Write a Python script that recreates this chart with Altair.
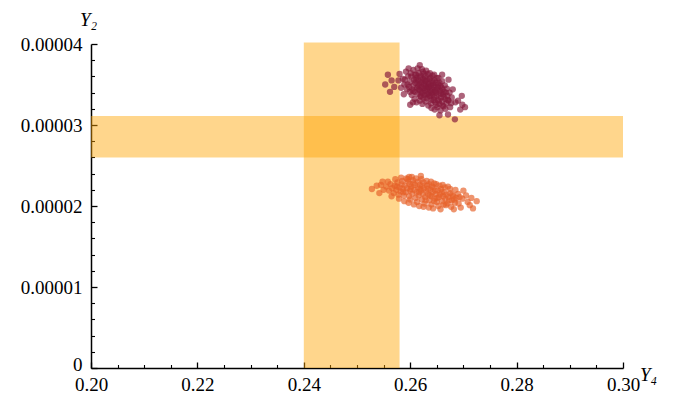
import altair as alt
import pandas as pd

# ---- axis tick values ----
x_major = [0.20, 0.22, 0.24, 0.26, 0.28, 0.30]
x_minor = [0.205, 0.21, 0.215, 0.225, 0.23, 0.235, 0.245, 0.25, 0.255,
           0.265, 0.27, 0.275, 0.285, 0.29, 0.295]
y_major = [0, 0.00001, 0.00002, 0.00003, 0.00004]
y_minor = [2e-6, 4e-6, 6e-6, 8e-6, 1.2e-5, 1.4e-5, 1.6e-5, 1.8e-5,
           2.2e-5, 2.4e-5, 2.6e-5, 2.8e-5, 3.2e-5, 3.4e-5, 3.6e-5, 3.8e-5]

# ---- bands ----
band_x1 = [0.24, 0.20]
band_x2 = [0.258, 0.30]
band_y1 = [0.0, 2.60e-5]
band_y2 = [4.02e-5, 3.11e-5]

# ---- dark red cloud ----
red_x = [0.2590, 0.2595, 0.2598, 0.2600, 0.2602, 0.2604, 0.2606, 0.2607, 0.2609, 0.2610,
         0.2611, 0.2613, 0.2614, 0.2615, 0.2617, 0.2618, 0.2619, 0.2620, 0.2621, 0.2622,
         0.2623, 0.2624, 0.2625, 0.2626, 0.2627, 0.2628, 0.2629, 0.2630, 0.2631, 0.2632,
         0.2633, 0.2634, 0.2635, 0.2636, 0.2637, 0.2638, 0.2639, 0.2640, 0.2641, 0.2642,
         0.2643, 0.2644, 0.2645, 0.2646, 0.2647, 0.2648, 0.2649, 0.2650, 0.2652, 0.2653,
         0.2654, 0.2655, 0.2656, 0.2658, 0.2659, 0.2660, 0.2662, 0.2663, 0.2664, 0.2666,
         0.2668, 0.2670, 0.2672, 0.2675, 0.2678,
         0.2612, 0.2616, 0.2620, 0.2624, 0.2628, 0.2633, 0.2638, 0.2642, 0.2646, 0.2650,
         0.2655, 0.2660, 0.2665, 0.2669, 0.2603, 0.2608, 0.2612, 0.2618, 0.2623, 0.2629,
         0.2634, 0.2640, 0.2646, 0.2651, 0.2657,
         0.2592, 0.2597, 0.2618, 0.2558, 0.2553, 0.2562, 0.2697, 0.2703, 0.2671, 0.2694,
         0.2684, 0.2578, 0.2583, 0.2580, 0.2588, 0.2605, 0.2600, 0.2660, 0.2672, 0.2680,
         0.2685, 0.2655,
         0.2596, 0.2601, 0.2606, 0.2611, 0.2616, 0.2621, 0.2626, 0.2631, 0.2636, 0.2641,
         0.2644, 0.2649, 0.2652, 0.2657, 0.2661, 0.2663, 0.2667, 0.2671, 0.2674, 0.2677,
         0.2606, 0.2599, 0.2594, 0.2589, 0.2586, 0.2609, 0.2614, 0.2622, 0.2630, 0.2637,
         0.2645, 0.2653, 0.2619, 0.2625, 0.2632, 0.2639, 0.2644, 0.2649, 0.2654, 0.2661,
         0.2666, 0.2627, 0.2634, 0.2640, 0.2615, 0.2620, 0.2628, 0.2636, 0.2647, 0.2658,
         0.2690, 0.2698, 0.2565, 0.2570]
red_y = [3.56e-5, 3.50e-5, 3.47e-5, 3.53e-5, 3.60e-5, 3.44e-5, 3.49e-5, 3.56e-5, 3.41e-5, 3.52e-5,
         3.62e-5, 3.46e-5, 3.38e-5, 3.55e-5, 3.50e-5, 3.43e-5, 3.59e-5, 3.35e-5, 3.47e-5, 3.53e-5,
         3.40e-5, 3.57e-5, 3.45e-5, 3.50e-5, 3.37e-5, 3.42e-5, 3.54e-5, 3.48e-5, 3.33e-5, 3.44e-5,
         3.51e-5, 3.39e-5, 3.46e-5, 3.57e-5, 3.35e-5, 3.42e-5, 3.49e-5, 3.31e-5, 3.45e-5, 3.38e-5,
         3.52e-5, 3.41e-5, 3.34e-5, 3.47e-5, 3.28e-5, 3.40e-5, 3.36e-5, 3.44e-5, 3.31e-5, 3.50e-5,
         3.38e-5, 3.26e-5, 3.42e-5, 3.34e-5, 3.46e-5, 3.29e-5, 3.38e-5, 3.23e-5, 3.41e-5, 3.32e-5,
         3.27e-5, 3.36e-5, 3.30e-5, 3.22e-5, 3.34e-5,
         3.58e-5, 3.64e-5, 3.61e-5, 3.66e-5, 3.60e-5, 3.63e-5, 3.58e-5, 3.61e-5, 3.55e-5, 3.58e-5,
         3.52e-5, 3.54e-5, 3.49e-5, 3.45e-5, 3.37e-5, 3.32e-5, 3.28e-5, 3.30e-5, 3.26e-5, 3.29e-5,
         3.24e-5, 3.21e-5, 3.19e-5, 3.22e-5, 3.18e-5,
         3.66e-5, 3.70e-5, 3.74e-5, 3.62e-5, 3.50e-5, 3.41e-5, 3.36e-5, 3.22e-5, 3.13e-5, 3.19e-5,
         3.07e-5, 3.55e-5, 3.46e-5, 3.63e-5, 3.38e-5, 3.28e-5, 3.25e-5, 3.62e-5, 3.56e-5, 3.44e-5,
         3.28e-5, 3.12e-5,
         3.60e-5, 3.64e-5, 3.68e-5, 3.55e-5, 3.44e-5, 3.40e-5, 3.63e-5, 3.56e-5, 3.51e-5, 3.54e-5,
         3.49e-5, 3.52e-5, 3.46e-5, 3.48e-5, 3.44e-5, 3.35e-5, 3.40e-5, 3.31e-5, 3.40e-5, 3.27e-5,
         3.42e-5, 3.41e-5, 3.44e-5, 3.50e-5, 3.57e-5, 3.62e-5, 3.70e-5, 3.69e-5, 3.67e-5, 3.64e-5,
         3.62e-5, 3.58e-5, 3.36e-5, 3.33e-5, 3.38e-5, 3.27e-5, 3.31e-5, 3.25e-5, 3.30e-5, 3.24e-5,
         3.20e-5, 3.55e-5, 3.47e-5, 3.40e-5, 3.48e-5, 3.52e-5, 3.46e-5, 3.36e-5, 3.43e-5, 3.39e-5,
         3.30e-5, 3.25e-5, 3.55e-5, 3.47e-5]

# ---- orange cloud ----
orange_x = [0.2555, 0.2560, 0.2563, 0.2566, 0.2569, 0.2571, 0.2574, 0.2576, 0.2578, 0.2580,
            0.2582, 0.2584, 0.2586, 0.2588, 0.2590, 0.2592, 0.2594, 0.2596, 0.2598, 0.2600,
            0.2602, 0.2604, 0.2606, 0.2608, 0.2610, 0.2612, 0.2614, 0.2616, 0.2618, 0.2620,
            0.2622, 0.2624, 0.2626, 0.2628, 0.2630, 0.2632, 0.2634, 0.2636, 0.2638, 0.2640,
            0.2642, 0.2644, 0.2646, 0.2648, 0.2650, 0.2652, 0.2654, 0.2656, 0.2658, 0.2660,
            0.2662, 0.2664, 0.2666, 0.2668, 0.2670, 0.2672, 0.2675, 0.2678, 0.2681, 0.2684,
            0.2687, 0.2690,
            0.2585, 0.2595, 0.2605, 0.2615, 0.2625, 0.2635, 0.2645, 0.2655, 0.2665, 0.2675,
            0.2600, 0.2613, 0.2627, 0.2640, 0.2653, 0.2667,
            0.2528, 0.2537, 0.2542, 0.2548, 0.2598, 0.2620, 0.2698, 0.2705, 0.2712, 0.2725,
            0.2718, 0.2695, 0.2682, 0.2700,
            0.2572, 0.2579, 0.2583, 0.2589, 0.2593, 0.2597, 0.2603, 0.2607, 0.2611, 0.2617,
            0.2621, 0.2625, 0.2631, 0.2635, 0.2639, 0.2643, 0.2649, 0.2657, 0.2661, 0.2671,
            0.2677, 0.2685, 0.2691, 0.2565, 0.2558, 0.2550, 0.2545, 0.2575, 0.2587, 0.2599,
            0.2609, 0.2619, 0.2629, 0.2633, 0.2641, 0.2647, 0.2651, 0.2659, 0.2663, 0.2673,
            0.2679, 0.2683, 0.2693, 0.2708, 0.2715, 0.2601, 0.2617, 0.2637, 0.2623, 0.2645]
orange_y = [2.24e-5, 2.19e-5, 2.27e-5, 2.22e-5, 2.16e-5, 2.25e-5, 2.20e-5, 2.29e-5, 2.14e-5, 2.23e-5,
            2.18e-5, 2.27e-5, 2.21e-5, 2.13e-5, 2.25e-5, 2.17e-5, 2.22e-5, 2.30e-5, 2.12e-5, 2.19e-5,
            2.24e-5, 2.15e-5, 2.28e-5, 2.20e-5, 2.10e-5, 2.17e-5, 2.23e-5, 2.13e-5, 2.26e-5, 2.19e-5,
            2.08e-5, 2.15e-5, 2.22e-5, 2.11e-5, 2.18e-5, 2.25e-5, 2.14e-5, 2.07e-5, 2.20e-5, 2.12e-5,
            2.17e-5, 2.23e-5, 2.09e-5, 2.15e-5, 2.05e-5, 2.19e-5, 2.11e-5, 2.14e-5, 2.21e-5, 2.06e-5,
            2.12e-5, 2.17e-5, 2.09e-5, 2.14e-5, 2.03e-5, 2.11e-5, 2.16e-5, 2.07e-5, 2.12e-5, 2.04e-5,
            2.10e-5, 2.15e-5,
            2.31e-5, 2.33e-5, 2.32e-5, 2.30e-5, 2.29e-5, 2.27e-5, 2.28e-5, 2.25e-5, 2.23e-5, 2.21e-5,
            2.08e-5, 2.05e-5, 2.03e-5, 2.02e-5, 2.00e-5, 2.01e-5,
            2.21e-5, 2.25e-5, 2.16e-5, 2.30e-5, 2.36e-5, 2.37e-5, 2.09e-5, 2.13e-5, 2.01e-5, 2.06e-5,
            1.97e-5, 1.98e-5, 1.96e-5, 2.19e-5,
            2.33e-5, 2.09e-5, 2.35e-5, 2.06e-5, 2.34e-5, 2.04e-5, 2.36e-5, 2.02e-5, 2.34e-5, 2.00e-5,
            2.33e-5, 1.99e-5, 2.31e-5, 1.98e-5, 2.30e-5, 1.97e-5, 2.27e-5, 1.96e-5, 2.26e-5, 2.24e-5,
            1.99e-5, 2.20e-5, 2.03e-5, 2.12e-5, 2.30e-5, 2.20e-5, 2.26e-5, 2.24e-5, 2.17e-5, 2.27e-5,
            2.26e-5, 2.21e-5, 2.07e-5, 2.21e-5, 2.24e-5, 2.19e-5, 2.10e-5, 2.17e-5, 2.02e-5, 2.07e-5,
            2.14e-5, 2.08e-5, 2.11e-5, 2.05e-5, 2.10e-5, 2.21e-5, 2.17e-5, 2.13e-5, 2.25e-5, 2.06e-5]

bands = pd.DataFrame({"x1": band_x1, "x2": band_x2, "y1": band_y1, "y2": band_y2})
red = pd.DataFrame({"x": red_x, "y": red_y})
orange = pd.DataFrame({"x": orange_x, "y": orange_y})

W, H = 532, 324
FONT = "Liberation Serif"
xs = alt.Scale(domain=[0.20, 0.30], nice=False, zero=False)
ys = alt.Scale(domain=[0, 0.00004], nice=False, zero=False)

# label-only axes (on band layer)
x_lab_axis = alt.Axis(orient="bottom", values=x_major, format=".2f", domain=False, ticks=False,
                      grid=False, labelPadding=7, labelFont=FONT, labelFontSize=19,
                      labelColor="black", labelFlush=False, labelOverlap=False,
                      title="Y₄", titleFont=FONT, titleFontStyle="italic", titleFontWeight="normal",
                      titleFontSize=19, titleColor="black", titleX=W + 25, titleY=6,
                      titleAlign="center", titleBaseline="middle", titleAngle=0)
y_lab_axis = alt.Axis(orient="left", values=y_major,
                      labelExpr="datum.value == 0 ? '0' : format(datum.value, '.5f')",
                      labelOffset={"condition": {"test": "datum.value == 0", "value": -4}, "value": 0},
                      domain=False, ticks=False, grid=False, labelPadding=9, labelFont=FONT,
                      labelFontSize=19, labelColor="black", labelOverlap=False,
                      title="Y₂", titleFont=FONT, titleFontStyle="italic", titleFontWeight="normal",
                      titleFontSize=19, titleColor="black", titleX=-3, titleY=-25,
                      titleAlign="center", titleBaseline="middle", titleAngle=0)

# major tick axes pointing inward (on red layer)
x_maj_axis = alt.Axis(orient="top", offset=-H, values=x_major, labels=False, grid=False,
                      domain=True, domainColor="black", domainWidth=1.5, ticks=True,
                      tickSize=6, tickWidth=1.3, tickColor="black", title=None)
y_maj_axis = alt.Axis(orient="right", offset=-W, values=y_major, labels=False, grid=False,
                      domain=True, domainColor="black", domainWidth=1.5, ticks=True,
                      tickSize=6, tickWidth=1.3, tickColor="black", title=None)
# minor tick axes (on orange layer)
x_min_axis = alt.Axis(orient="top", offset=-H, values=x_minor, labels=False, grid=False,
                      domain=False, ticks=True, tickSize=3.5, tickWidth=1.1,
                      tickColor="black", title=None)
y_min_axis = alt.Axis(orient="right", offset=-W, values=y_minor, labels=False, grid=False,
                      domain=False, ticks=True, tickSize=3.5, tickWidth=1.1,
                      tickColor="black", title=None)

band_layer = alt.Chart(bands).mark_rect(color="#FFA500", opacity=0.45).encode(
    x=alt.X("x1:Q", scale=xs, axis=x_lab_axis),
    x2="x2:Q",
    y=alt.Y("y1:Q", scale=ys, axis=y_lab_axis),
    y2="y2:Q",
)

red_layer = alt.Chart(red).mark_circle(size=40, opacity=0.68, color="#861A3D").encode(
    x=alt.X("x:Q", scale=xs, axis=x_maj_axis),
    y=alt.Y("y:Q", scale=ys, axis=y_maj_axis),
)

orange_layer = alt.Chart(orange).mark_circle(size=40, opacity=0.68, color="#E6622A").encode(
    x=alt.X("x:Q", scale=xs, axis=x_min_axis),
    y=alt.Y("y:Q", scale=ys, axis=y_min_axis),
)

chart = alt.layer(band_layer, red_layer, orange_layer).resolve_axis(
    x="independent", y="independent"
).properties(
    width=W, height=H,
    padding={"left": 83, "top": 36, "right": 52, "bottom": 26},
    autosize=alt.AutoSizeParams(type="none"),
    background="white",
).configure_view(strokeWidth=0)

chart.save("out.html", embed_options={"renderer": "svg", "actions": False})
